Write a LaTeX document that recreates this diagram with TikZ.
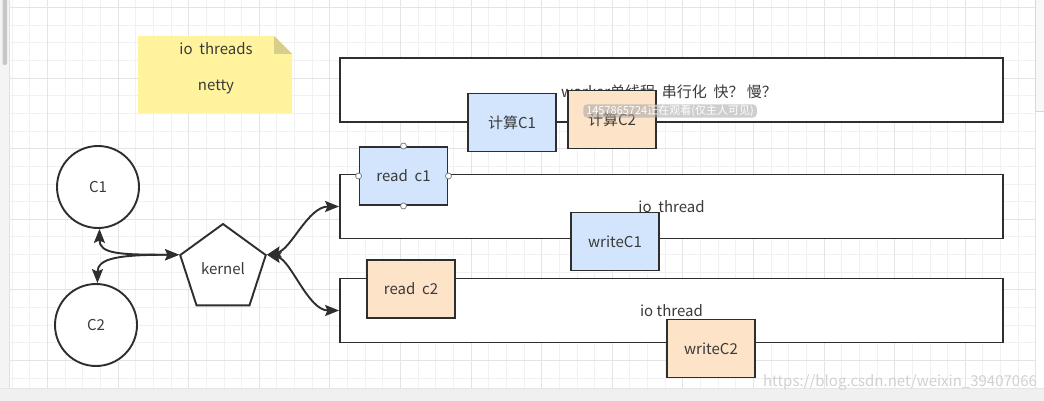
\documentclass[tikz,border=0pt]{standalone}
\usepackage{fontspec}
\setmainfont{Noto Sans CJK SC}
\usetikzlibrary{shapes.geometric,arrows.meta}
\definecolor{ln}{HTML}{2E2E2E}
\definecolor{txt}{HTML}{3A3A3A}
\definecolor{bl}{HTML}{D2E5FC}
\definecolor{og}{HTML}{FDE3C8}
\definecolor{notey}{HTML}{FFF39E}
\definecolor{notef}{HTML}{D6CE8C}
\definecolor{gminor}{HTML}{F1F1F3}
\definecolor{gmajor}{HTML}{E4E4E6}
\definecolor{uia}{HTML}{F4F4F4}
\definecolor{uib}{HTML}{F0F0F0}
\definecolor{uic}{HTML}{F8F8F8}
\tikzset{
  fnt/.style={font=\fontsize{15}{18}\selectfont, text=txt},
  box/.style={fnt, draw=ln, line width=1.9pt, minimum width=88pt, minimum height=58pt, inner sep=0pt},
  bluebox/.style={box, fill=bl},
  orgbox/.style={box, fill=og},
  lane/.style={fnt, draw=ln, line width=1.9pt, fill=white, minimum width=663pt, minimum height=64pt, inner sep=0pt},
  client/.style={fnt, draw=ln, line width=1.9pt, fill=white, circle, minimum size=82pt, inner sep=0pt},
  handle/.style={circle, draw=gray, fill=white, line width=0.8pt, minimum size=6pt, inner sep=0pt},
  conn/.style={draw=ln, line width=1.9pt},
  tips/.style={{Stealth[length=14pt,width=11pt,inset=2.5pt]}-{Stealth[length=14pt,width=11pt,inset=2.5pt]}},
}
\begin{document}
\begin{tikzpicture}[x=1pt,y=-1pt]
\useasboundingbox (0,0) rectangle (1044,401);
\fill[white] (0,0) rectangle (1044,401);
% grid
\foreach \i in {0,...,58} { \draw[gminor, line width=0.8pt] ({12.1+\i*17.65},0) -- ({12.1+\i*17.65},388); }
\foreach \j in {0,...,21} { \draw[gminor, line width=0.8pt] (0,{7.4+\j*17.65}) -- (1035,{7.4+\j*17.65}); }
\foreach \i in {0,...,14} { \draw[gmajor, line width=0.9pt] ({47.4+\i*70.6},0) -- ({47.4+\i*70.6},388); }
\foreach \j in {0,...,5} { \draw[gmajor, line width=0.9pt] (0,{7.4+\j*70.6}) -- (1035,{7.4+\j*70.6}); }
% ui chrome
\fill[uia] (0,0) rectangle (9,401);
\fill[black!22, rounded corners=2pt] (2.5,-3) rectangle (7,65);
\draw[black!12, line width=0.8pt] (9.5,0) -- (9.5,401);
\fill[uib] (0,388) rectangle (1044,401);
\draw[black!10, line width=0.8pt] (0,388) -- (1044,388);
\filldraw[fill=uic, draw=black!15, line width=0.8pt] (1035,-2) rectangle (1046,111);

% note
\fill[notey] (138,36) -- (274,36) -- (292,54) -- (292,113) -- (138,113) -- cycle;
\fill[notef] (274,36) -- (274,54) -- (292,54) -- cycle;
\node[fnt] (n1) at (216,49) {io\ \ threads};
\node[fnt] (n2) at (216,87) {netty};

% lanes
\node[lane] (worker) at (671.5,90) {};
\node[fnt] (wtxt) at (669,91.5) {worker单线程\ \ 串行化\ \ 快？\ 慢？};
\node[lane] (io1) at (671.5,206.5) {io\ \ thread};
\node[lane] (io2) at (671.5,310.5) {io thread};

% boxes
\node[bluebox] (calc1) at (512,122.5) {计算C1};
\node[orgbox] (calc2) at (612,119.5) {计算C2};
\node[bluebox] (read1) at (403.5,176) {read\ \ c1};
\node[bluebox] (write1) at (615,241.5) {writeC1};
\node[orgbox] (read2) at (411,289) {read\ \ c2};
\node[orgbox] (write2) at (711,348.5) {writeC2};

% selection handles
\node[handle] (h1) at (read1.north) {};
\node[handle] (h2) at (read1.south) {};
\node[handle] (h3) at (read1.west) {};
\node[handle] (h4) at (read1.east) {};

% clients and kernel
\node[client] (c1) at (98,187) {C1};
\node[client] (c2) at (96,325) {C2};
\node[fnt, draw=ln, line width=1.9pt, fill=white, regular polygon, regular polygon sides=5, minimum size=90pt, inner sep=0pt] (k) at (223,269) {kernel};

% connectors
\draw[conn, tips] (c1.-88) .. controls +(0,25) and +(-60,0) .. (k.corner 2);
\draw[conn, tips] (c2.88) .. controls +(0,-25) and +(-60,0) .. (k.corner 2);
\draw[conn, tips] (k.corner 5) .. controls +(24,-5) and +(-31,0) .. (io1.west);
\draw[conn, tips] (k.corner 5) .. controls +(24,5) and +(-31,0) .. (io2.west);

% overlay watermark texts
\node[font=\fontsize{11}{13}\selectfont, text=white, fill=black!35, fill opacity=0.55, text opacity=1, rounded corners=4pt, inner xsep=3pt, inner ysep=1pt] (ov) at (670,111) {1457865724正在观看(仅主人可见)};
\node[font=\fontsize{15}{18}\selectfont, text=black!18] (wm) at (900,382) {https://blog.csdn.net/weixin\_39407066};
\end{tikzpicture}
\end{document}
